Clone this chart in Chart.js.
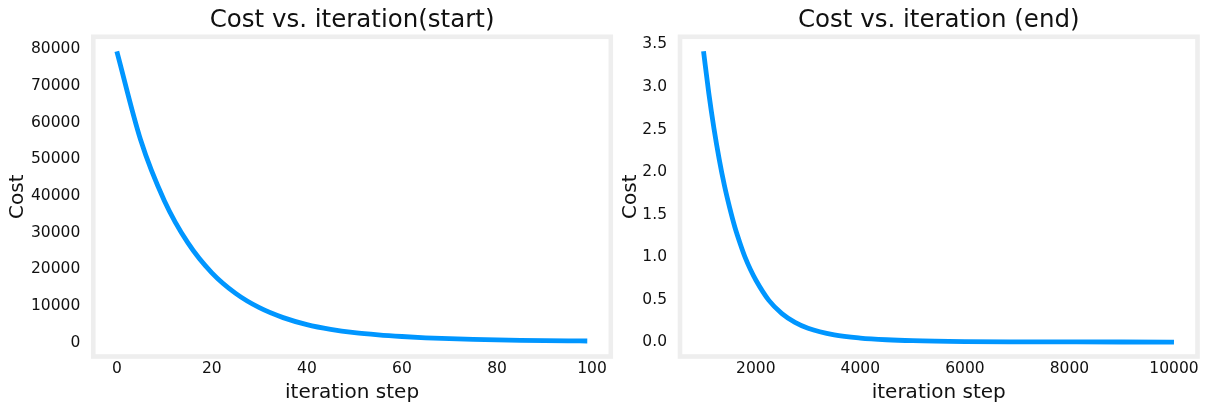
<!DOCTYPE html>
<html>
<head>
<meta charset="utf-8">
<script src="https://cdn.jsdelivr.net/npm/chart.js@4.4.1/dist/chart.umd.min.js"></script>
<style>
  html, body { margin: 0; padding: 0; background: #fff; }
  .panel { position: absolute; top: 0; height: 411px; }
</style>
</head>
<body>
<div class="panel" style="left:0;width:615px"><canvas id="startChart"></canvas></div>
<div class="panel" style="left:615px;width:596px"><canvas id="endChart"></canvas></div>
<script>
// cost history, first 100 iterations
const startIters = [0, 5, 10, 15, 20, 25, 30, 35, 40, 45, 50, 55, 60, 65, 70, 75, 80, 85, 90, 95, 99];
const startCost = [79400, 55300, 38700, 27100, 19000, 13400, 9500, 6800, 4900, 3600, 2700,
                   2100, 1650, 1300, 1050, 860, 720, 610, 530, 470, 430];

// cost history, iteration 1000 onwards
const endIters = [1000, 1100, 1200, 1300, 1400, 1500, 1600, 1700, 1800, 1900, 2000, 2250,
                  2500, 2750, 3000, 3500, 4000, 4500, 5000, 6000, 7000, 8000, 9000, 10000];
const endCost = [3.42, 2.93, 2.51, 2.15, 1.84, 1.58, 1.35, 1.16, 0.99, 0.85, 0.73, 0.49,
                 0.335, 0.232, 0.163, 0.085, 0.047, 0.027, 0.016, 0.006, 0.0025, 0.001, 0.0005, 0.0002];

const startXTicks = [0, 20, 40, 60, 80, 100];
const startYTicks = [0, 10000, 20000, 30000, 40000, 50000, 60000, 70000, 80000];
const endXTicks = [2000, 4000, 6000, 8000, 10000];
const endYTicks = [0, 0.5, 1.0, 1.5, 2.0, 2.5, 3.0, 3.5];

const FONT = "'DejaVu Sans', sans-serif";
const INK = '#111';
const BLUE = '#0096ff';

// light grey box round the plot area (matplotlib style spines)
const frame = {
  id: 'frame',
  beforeDatasetsDraw(chart) {
    const { ctx, chartArea: a } = chart;
    ctx.save();
    ctx.strokeStyle = '#eeeeee';
    ctx.lineWidth = 4.6;
    ctx.strokeRect(a.left, a.top, a.right - a.left, a.bottom - a.top);
    ctx.restore();
  }
};

function costChart(id, cfg) {
  return new Chart(document.getElementById(id), {
    type: 'line',
    data: {
      datasets: [{
        data: cfg.xs.map((x, i) => ({ x: x, y: cfg.ys[i] })),
        borderColor: BLUE,
        borderWidth: 4.8,
        pointRadius: 0,
        tension: 0.4,
        cubicInterpolationMode: 'monotone',
        fill: false
      }]
    },
    options: {
      maintainAspectRatio: false,
      animation: false,
      layout: { padding: { left: 0, right: cfg.padRight, top: 0, bottom: 0 } },
      plugins: {
        legend: { display: false },
        tooltip: { enabled: false },
        title: {
          display: true,
          text: cfg.title,
          fullSize: false,
          color: INK,
          font: { family: FONT, size: 24.5, weight: 'normal' },
          padding: { top: 6, bottom: 1.4 }
        }
      },
      scales: {
        x: {
          type: 'linear',
          min: cfg.xMin, max: cfg.xMax,
          grid: { display: false },
          border: { display: false },
          afterBuildTicks: s => { s.ticks = cfg.xTicks.map(v => ({ value: v })); },
          afterFit: s => { s.height = 54.5; },
          ticks: {
            color: INK, font: { family: FONT, size: 15.5 },
            padding: -4.5, maxRotation: 0, autoSkip: false,
            callback: v => String(v)
          },
          title: {
            display: true, text: 'iteration step', color: INK,
            font: { family: FONT, size: 20 },
            padding: { top: 0, bottom: 5.8 }
          }
        },
        y: {
          min: cfg.yMin, max: cfg.yMax,
          grid: { display: false },
          border: { display: false },
          afterBuildTicks: s => { s.ticks = cfg.yTicks.map(v => ({ value: v })); },
          afterFit: s => { s.width = cfg.yWidth; },
          ticks: {
            color: INK, font: { family: FONT, size: 15.5 },
            padding: 5, autoSkip: false,
            callback: cfg.fmt
          },
          title: {
            display: true, text: 'Cost', color: INK,
            font: { family: FONT, size: 20 },
            padding: { top: cfg.yTitlePad, bottom: 0 }
          }
        }
      }
    },
    plugins: [frame]
  });
}

costChart('startChart', {
  title: 'Cost vs. iteration(start)',
  xs: startIters, ys: startCost,
  xTicks: startXTicks, yTicks: startYTicks,
  xMin: -4.95, xMax: 103.95, yMin: -3800, yMax: 83370,
  fmt: v => String(v),
  yWidth: 93.3, padRight: 4.2, yTitlePad: 5.5
});

costChart('endChart', {
  title: 'Cost vs. iteration (end)',
  xs: endIters, ys: endCost,
  xTicks: endXTicks, yTicks: endYTicks,
  xMin: 550, xMax: 10450, yMin: -0.17, yMax: 3.59,
  fmt: v => v.toFixed(1),
  yWidth: 65, padRight: 13.5, yTitlePad: 3.5
});
</script>
</body>
</html>
